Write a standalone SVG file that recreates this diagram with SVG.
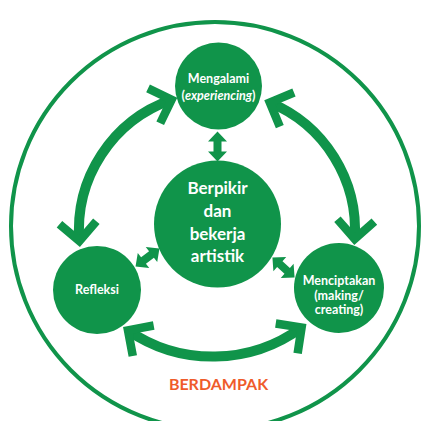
<svg xmlns="http://www.w3.org/2000/svg" width="421" height="421" viewBox="0 0 421 421">
  <style>
    .node { fill: #10944a; }
    .lbl { font-family: Lato, "Open Sans", "Liberation Sans", sans-serif; fill: #ffffff; text-anchor: middle; font-weight: bold; }
    .cycle { fill: none; stroke: #10944a; stroke-width: 10; }
    .link { fill: #10944a; }
  </style>
  <defs>
    <!-- open chevron head used at both ends of the cycle arcs -->
    <marker id="chev" markerUnits="userSpaceOnUse" orient="auto-start-reverse" overflow="visible" markerWidth="1" markerHeight="1" refX="0" refY="0">
      <path d="M -18.5 -18.5 L 0 0 L -18.5 18.5" fill="none" stroke="#10944a" stroke-width="8.5" stroke-linejoin="miter" stroke-miterlimit="10"/>
    </marker>
    <!-- small block double arrow, centred on the origin along x -->
    <polygon id="dbl" points="-15,0 -5,-9.5 -5,-4 5,-4 5,-9.5 15,0 5,9.5 5,4 -5,4 -5,9.5"/>
  </defs>

  <rect width="421" height="421" fill="#ffffff"/>

  <!-- outer boundary -->
  <circle id="boundary" cx="215" cy="226" r="204" fill="none" stroke="#10944a" stroke-width="4"/>

  <g id="connectors">
    <path class="cycle" d="M 171.6 99.7 A 138 138 0 0 0 79.4 241.1" marker-start="url(#chev)" marker-end="url(#chev)"/>
    <path class="cycle" d="M 269.8 102.5 A 138 138 0 0 1 354.7 238.9" marker-start="url(#chev)" marker-end="url(#chev)"/>
    <path class="cycle" d="M 128 330.3 A 150 150 0 0 0 301.6 327.5" marker-start="url(#chev)" marker-end="url(#chev)"/>
    <use href="#dbl" class="link" transform="translate(217.5 146.5) rotate(90)"/>
    <use href="#dbl" class="link" transform="translate(147.5 257.5) rotate(-37.2)"/>
    <use href="#dbl" class="link" transform="translate(283.5 267.5) rotate(42.4)"/>
  </g>

  <g id="mengalami">
    <circle class="node" cx="218.5" cy="86" r="43.5"/>
    <text class="lbl" x="218.5" y="83" font-size="12.5">Mengalami</text>
    <text class="lbl" x="218.5" y="100" font-size="12.5" font-weight="normal">(<tspan font-style="italic">experiencing</tspan>)</text>
  </g>

  <g id="berpikir">
    <circle class="node" cx="217.5" cy="224" r="63.5"/>
    <text class="lbl" x="217.5" y="194" font-size="17">Berpikir</text>
    <text class="lbl" x="217.5" y="217" font-size="17">dan</text>
    <text class="lbl" x="217.5" y="239.5" font-size="17">bekerja</text>
    <text class="lbl" x="217.5" y="262" font-size="17">artistik</text>
  </g>

  <g id="refleksi">
    <circle class="node" cx="97" cy="290" r="44"/>
    <text class="lbl" x="97" y="294" font-size="12.5">Refleksi</text>
  </g>

  <g id="menciptakan">
    <circle class="node" cx="339" cy="288" r="45"/>
    <text class="lbl" x="339" y="285" font-size="12.5">Menciptakan</text>
    <text class="lbl" x="339" y="300" font-size="12.5">(making/</text>
    <text class="lbl" x="339" y="314" font-size="12.5">creating)</text>
  </g>

  <text id="berdampak" x="218.5" y="390" font-family="Lato, 'Open Sans', 'Liberation Sans', sans-serif" font-size="16" font-weight="bold" fill="#ef5b2b" text-anchor="middle">BERDAMPAK</text>
</svg>
